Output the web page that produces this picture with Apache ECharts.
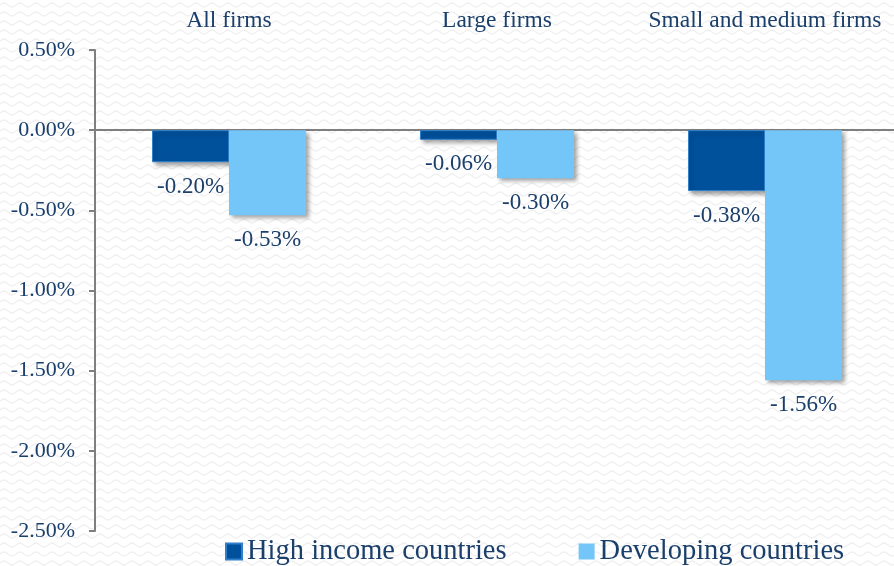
<!DOCTYPE html>
<html>
<head>
<meta charset="utf-8">
<title>Firms chart</title>
<style>
  html, body { margin: 0; padding: 0; background: #fff; overflow: hidden; }
  #container { width: 904px; height: 566px; }
</style>
</head>
<body>
<div id="container"></div>
<script src="https://cdn.jsdelivr.net/npm/echarts@6/dist/echarts.min.js"></script>
<script>
var categories = ['All firms', 'Large firms', 'Small and medium firms'];
var highIncome = [-0.20, -0.06, -0.38];
var developing = [-0.53, -0.30, -1.56];

// faint wavy background like the slide
var bg = document.createElement('canvas');
bg.width = 16; bg.height = 9;
var ctx = bg.getContext('2d');
ctx.fillStyle = '#ffffff';
ctx.fillRect(0, 0, 16, 9);
ctx.strokeStyle = '#f0f0f0';
ctx.lineWidth = 1.2;
ctx.beginPath();
ctx.moveTo(0, 5);
ctx.quadraticCurveTo(4, 1, 8, 5);
ctx.quadraticCurveTo(12, 9, 16, 5);
ctx.stroke();

var textColor = '#1B3F6B';
var fontFam = '"Liberation Serif", serif';

var myChart = echarts.init(document.getElementById('container'));
var option = {
    backgroundColor: { image: bg, repeat: 'repeat' },
    animation: false,
    textStyle: { fontFamily: fontFam, color: textColor },
    grid: { left: 95, right: 5, top: 50, bottom: 35 },
    legend: {
        left: 220,
        top: 532,
        icon: 'rect',
        itemWidth: 16,
        itemHeight: 16,
        itemGap: 72,
        textStyle: { fontFamily: fontFam, fontSize: 28.5, color: textColor },
        data: ['High income countries', 'Developing countries']
    },
    xAxis: [
        {
            type: 'category',
            data: categories,
            axisLine: { onZero: true, lineStyle: { color: '#7F7F7F', width: 2 } },
            axisTick: { show: false },
            axisLabel: { show: false }
        },
        {
            type: 'category',
            data: categories,
            position: 'top',
            axisLine: { show: false },
            axisTick: { show: false },
            axisLabel: { interval: 0, margin: 17, fontSize: 23.5, color: textColor, fontFamily: fontFam }
        }
    ],
    yAxis: {
        type: 'value',
        min: -2.5,
        max: 0.5,
        interval: 0.5,
        splitLine: { show: false },
        axisLine: { show: true, lineStyle: { color: '#7F7F7F', width: 2 } },
        axisTick: { show: true, length: 6, lineStyle: { color: '#7F7F7F', width: 2 } },
        axisLabel: {
            margin: 20,
            fontSize: 22,
            color: textColor,
            fontFamily: fontFam,
            formatter: function (v) { return v.toFixed(2) + '%'; }
        }
    },
    series: [
        {
            name: 'High income countries',
            type: 'bar',
            data: highIncome,
            barWidth: 77,
            barGap: '0%',
            itemStyle: {
                color: '#00519C',
                borderColor: '#2F7FCC',
                borderWidth: 1,
                shadowColor: 'rgba(0,0,0,0.35)',
                shadowBlur: 4,
                shadowOffsetX: 3,
                shadowOffsetY: 3
            },
            label: {
                show: true,
                position: 'bottom',
                distance: 13,
                fontSize: 23,
                color: textColor,
                fontFamily: fontFam,
                formatter: function (p) { return p.value.toFixed(2) + '%'; }
            }
        },
        {
            name: 'Developing countries',
            type: 'bar',
            data: developing,
            barWidth: 77,
            itemStyle: {
                color: '#74C5F8',
                shadowColor: 'rgba(0,0,0,0.35)',
                shadowBlur: 4,
                shadowOffsetX: 3,
                shadowOffsetY: 3
            },
            label: {
                show: true,
                position: 'bottom',
                distance: 13,
                fontSize: 23,
                color: textColor,
                fontFamily: fontFam,
                formatter: function (p) { return p.value.toFixed(2) + '%'; }
            }
        }
    ]
};
myChart.setOption(option);
</script>
</body>
</html>
